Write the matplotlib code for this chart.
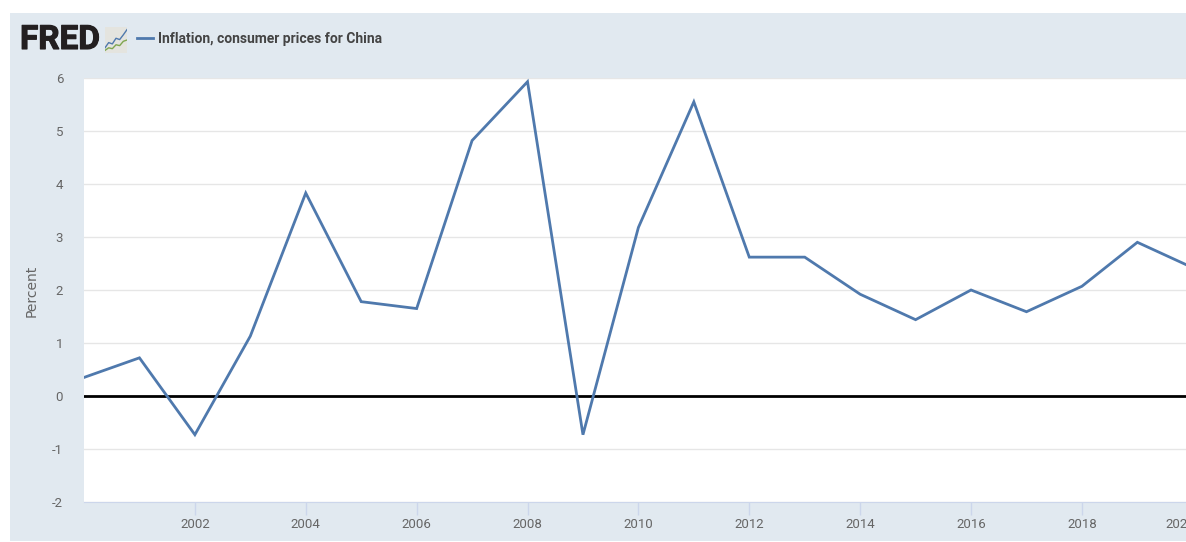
import matplotlib
matplotlib.use("Agg")
import matplotlib.pyplot as plt
import matplotlib.patheffects as pe
from matplotlib.patches import Rectangle
from matplotlib.transforms import ScaledTranslation

years = list(range(2000, 2021))
inflation = [0.35, 0.72, -0.73, 1.13, 3.83, 1.78, 1.65, 4.82, 5.93, -0.73, 3.18,
             5.55, 2.62, 2.62, 1.92, 1.44, 2.00, 1.59, 2.07, 2.90, 2.42]
x_ticks = list(range(2002, 2021, 2))
y_ticks = list(range(-2, 7))
series_name = "Inflation, consumer prices for China"

# small chart inside the logo
logo_x = [0, 1, 2, 3, 4, 5, 6]
logo_blue = [1.2, 2.4, 2.1, 3.4, 3.1, 4.2, 5.4]
logo_green = [0.6, 1.2, 1.0, 1.9, 1.7, 2.7, 3.0]

W, H = 1186, 542
BG = "#e1e9f0"
LINE = "#4f79ad"
TEXT = "#666666"
px = 55.44  # pixels per year

plt.rcParams["font.family"] = ["Roboto", "DejaVu Sans"]
plt.rcParams["axes.unicode_minus"] = False

fig = plt.figure(figsize=(W / 100, H / 100), dpi=100, facecolor="white")

# light panel behind everything
fig.add_artist(Rectangle((10 / W, 1 / H), (W - 10) / W, 528 / H, transform=fig.transFigure,
                         facecolor=BG, edgecolor="none", zorder=-5))

# axes run past the right edge so the last year gets cut off like the original
left, top, bottom = 84, 78, 502
ax = fig.add_axes([left / W, (H - bottom) / H, 21 * px / W, (bottom - top) / H])
ax.set_facecolor("white")
ax.set_xlim(2000, 2021)
ax.set_ylim(-2, 6)

ax.plot(years, inflation, color=LINE, lw=2.0, zorder=3, solid_joinstyle="miter")
ax.axhline(0, color="black", lw=2.0, zorder=2)

ax.set_yticks(y_ticks)
ax.set_xticks(x_ticks)
ax.grid(axis="y", color="#e6e6e6", lw=1)
ax.set_axisbelow(True)
ax.tick_params(axis="y", length=0, pad=15, labelsize=9.5, labelcolor=TEXT)
ax.tick_params(axis="x", length=9.5, width=1, color="#ccd6eb", pad=2, labelsize=9.5, labelcolor=TEXT)
for s in ["top", "left", "right"]:
    ax.spines[s].set_visible(False)
ax.spines["bottom"].set_color("#ccd6eb")

# last label is pushed inwards, the original keeps it near the edge
last = ax.get_xticklabels()[-1]
last.set_transform(last.get_transform() + ScaledTranslation(-12 / 100, 0, fig.dpi_scale_trans))

fig.text(32 / W, 1 - 290.5 / H, "Percent", rotation=90, ha="center", va="center",
         fontsize=10, color=TEXT, family="DejaVu Sans")

# header: logo and legend
logo = fig.text(20 / W, 1 - 40 / H, "FRED", ha="left", va="center", fontsize=24, fontweight="bold",
                color="#231f20", family="Roboto")
logo.set_path_effects([pe.withStroke(linewidth=0.8, foreground="#231f20")])
icon = fig.add_axes([105 / W, 1 - 53 / H, 22 / W, 26 / H])
icon.set_facecolor("#e4e4df")
icon.plot(logo_x, logo_blue, color="#4f79ad", lw=1.0)
icon.plot(logo_x, logo_green, color="#7fa64f", lw=1.0)
icon.set_xlim(0, 6)
icon.set_ylim(0, 6)
icon.set_xticks([])
icon.set_yticks([])
for s in icon.spines.values():
    s.set_visible(False)

fig.add_artist(plt.Line2D([137 / W, 153 / W], [1 - 38 / H, 1 - 38 / H], color=LINE, lw=2.0))
fig.text(158 / W, 1 - 38.5 / H, series_name, ha="left", va="center", fontsize=10,
         fontweight="bold", color="#444444", family="Roboto")

fig.savefig("out.png", dpi=100)
